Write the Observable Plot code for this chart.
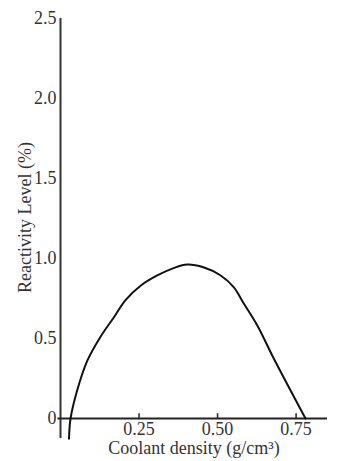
<!DOCTYPE html>
<html>
<head>
<meta charset="utf-8">
<script src="https://cdn.jsdelivr.net/npm/d3@7"></script>
<script src="https://cdn.jsdelivr.net/npm/@observablehq/plot@0.6"></script>
<style>
  html, body { margin: 0; padding: 0; background: #fff; }
</style>
</head>
<body>
<div id="chart"></div>
<script>
const density = [0.027, 0.032, 0.053, 0.085, 0.127, 0.169, 0.207, 0.255, 0.308, 0.360, 0.404, 0.455, 0.510, 0.552, 0.580, 0.627, 0.679, 0.780];
const reactivity = [-0.127, 0.0, 0.175, 0.36, 0.51, 0.63, 0.74, 0.83, 0.894, 0.94, 0.962, 0.945, 0.894, 0.82, 0.73, 0.58, 0.375, 0.0];
const xTicks = [0.25, 0.50, 0.75];
const yTicks = [0, 0.5, 1.0, 1.5, 2.0, 2.5];
const xLabel = "Coolant density (g/cm³)";
const yLabel = "Reactivity Level (%)";

const data = density.map((d, i) => ({x: d, y: reactivity[i]}));

const chart = Plot.plot({
  width: 345,
  height: 461,
  marginLeft: 60,
  marginRight: 18,
  marginTop: 18,
  marginBottom: 23,
  style: {fontFamily: "'Liberation Serif', 'Times New Roman', serif", fontSize: "18px", color: "#333", background: "#fff"},
  x: {domain: [0, 0.85], axis: null},
  y: {domain: [-0.125, 2.5]},
  marks: [
    Plot.axisY(yTicks, {
      tickSize: 0,
      tickPadding: 4,
      fontSize: 18,
      fill: "#333",
      tickFormat: d => d === 0 ? "0" : d.toFixed(1),
      label: null
    }),
    Plot.text([yLabel], {frameAnchor: "left", dx: -35, dy: -11, rotate: -90, textAnchor: "middle", lineAnchor: "middle", text: d => d, fontSize: 18, fill: "#333"}),
    Plot.ruleX([0], {stroke: "#333", strokeWidth: 2}),
    Plot.ruleY([0], {x1: -0.008, x2: 0.85, stroke: "#222", strokeWidth: 2}),
    Plot.ruleX(xTicks, {x: d => d, y1: 0, y2: 0.03, stroke: "#222", strokeWidth: 1.5}),
    Plot.text(xTicks, {x: d => d, y: 0, dy: 11, text: d => d.toFixed(2), fontSize: 18, fill: "#333", lineAnchor: "middle"}),
    Plot.text([xLabel], {frameAnchor: "bottom", dy: 10, lineAnchor: "middle", textAnchor: "middle", text: d => d, fontSize: 18, fill: "#333"}),
    Plot.line(data, {x: "x", y: "y", curve: "catmull-rom", stroke: "#111", strokeWidth: 2})
  ]
});
document.getElementById("chart").appendChild(chart);
</script>
</body>
</html>
